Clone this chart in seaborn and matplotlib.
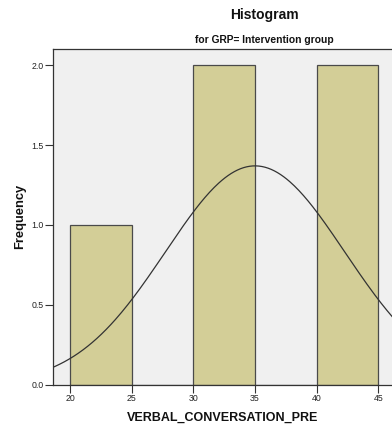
import numpy as np
import pandas as pd
import matplotlib
matplotlib.use("Agg")
import matplotlib.pyplot as plt
import seaborn as sns

# Data
scores = [22, 32, 33, 42, 44]          # VERBAL_CONVERSATION_PRE values, intervention group
bin_edges = [20, 25, 30, 35, 40, 45]
curve_mean = 35.0
curve_sd = 7.28
n_obs = 5
bin_width = 5
x_ticks = [20, 25, 30, 35, 40, 45]
y_ticks = [0.0, 0.5, 1.0, 1.5, 2.0]

sns.set_theme(style="white")
plt.rcParams["font.family"] = ["Liberation Sans", "DejaVu Sans"]

fig = plt.figure(figsize=(3.92, 4.34), dpi=100)
W, H = 392, 434
left, right, top, bottom = 53, 475, 49, 384.6
ax = fig.add_axes([left / W, 1 - bottom / H, (right - left) / W, (bottom - top) / H])
ax.set_facecolor("#F0F0F0")

df = pd.DataFrame({"VERBAL_CONVERSATION_PRE": scores})
sns.histplot(data=df, x="VERBAL_CONVERSATION_PRE", bins=bin_edges, ax=ax,
             color="#D3CE97", edgecolor="#4a4a4a", linewidth=0.9, alpha=1.0)

xs = np.linspace(10, 60, 400)
ys = n_obs * bin_width / (curve_sd * np.sqrt(2 * np.pi)) * np.exp(-0.5 * ((xs - curve_mean) / curve_sd) ** 2)
sns.lineplot(x=xs, y=ys, ax=ax, color="#333333", linewidth=0.9)

ax.set_xlim(18.6, 18.6 + (right - left) / 12.32)
ax.set_ylim(0, 2.102)
ax.set_xticks(x_ticks)
ax.set_yticks(y_ticks)
ax.set_yticklabels([f"{v:.1f}" for v in y_ticks])
ax.tick_params(axis="both", which="both", direction="out", length=5.5, width=0.8,
               color="#333333", labelsize=6.3, labelcolor="#222222", pad=1.5,
               bottom=True, left=True)
for s in ["left", "bottom", "top"]:
    ax.spines[s].set_visible(True)
    ax.spines[s].set_color("#333333")
    ax.spines[s].set_linewidth(0.9)
ax.spines["right"].set_visible(False)

ax.set_xlabel("VERBAL_CONVERSATION_PRE", fontsize=9.0, fontweight="bold", color="#111111")
ax.set_ylabel("Frequency", fontsize=9.3, fontweight="bold", color="#111111")
ax_w, ax_h = right - left, bottom - top
ax.xaxis.set_label_coords(((left + W) / 2 - left) / ax_w, -(418 - bottom) / ax_h)
ax.xaxis.label.set_va("center")
ax.yaxis.set_label_coords(-(left - 20) / ax_w, 0.5)
ax.yaxis.label.set_va("center")

cx = ((left + right) / 2) / W
fig.text(cx, 1 - 15 / H, "Histogram", ha="center", va="center", fontsize=10, fontweight="bold", color="#111111")
fig.text(cx, 1 - 40 / H, "for GRP= Intervention group", ha="center", va="center", fontsize=7.4, fontweight="bold", color="#111111")

fig.savefig("out.png", dpi=100, facecolor="white")
